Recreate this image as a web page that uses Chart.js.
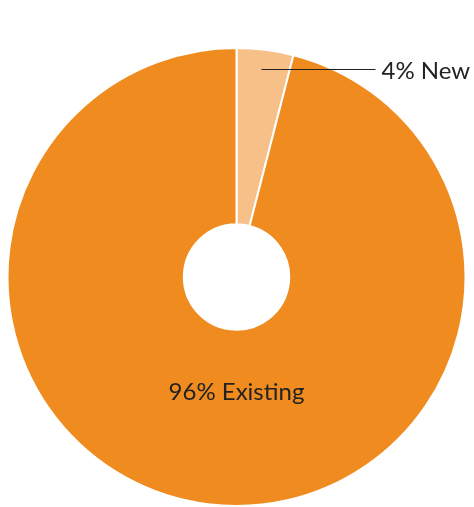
<!DOCTYPE html>
<html>
<head>
<meta charset="utf-8">
<script src="https://cdn.jsdelivr.net/npm/chart.js@4"></script>
<style>
body{margin:0;background:#fff;}
</style>
</head>
<body>
<canvas id="pie" width="474" height="507"></canvas>
<script>

const labels=["New","Existing"];
const values=[4,96];
const colors=["#F8C089","#F08C1F"];

// labels drawn on top of the doughnut
const sliceLabels={
id:"sliceLabels",
afterDraw(chart){
const ctx=chart.ctx;
const arcs=chart.getDatasetMeta(0).data;
const cx=arcs[0].x;
const cy=arcs[0].y;
ctx.save();
ctx.font="24px Lato";
ctx.fillStyle="#222";
ctx.textBaseline="alphabetic";

// New: leader line out to the right
ctx.strokeStyle="#222";
ctx.lineWidth=1;
ctx.beginPath();
ctx.moveTo(cx+25,cy-207.5);
ctx.lineTo(cx+139,cy-207.5);
ctx.stroke();
ctx.textAlign="left";
ctx.fillText(values[0]+"% "+labels[0],cx+145,cy-198);

// Existing: inside the slice
ctx.textAlign="center";
ctx.fillText(values[1]+"% "+labels[1],cx,cy+123);
ctx.restore();
}
};

new Chart(document.getElementById("pie"),{
type:"doughnut",
data:{
labels:labels,
datasets:[{
data:values,
backgroundColor:colors,
borderColor:"#ffffff",
borderWidth:2
}]
},
options:{
responsive:false,
animation:false,
cutout:"23%",
layout:{padding:{left:6,right:7,top:47,bottom:0}},
plugins:{
legend:{display:false},
tooltip:{enabled:false}
}
},
plugins:[sliceLabels]
});

</script>
</body>
</html>
